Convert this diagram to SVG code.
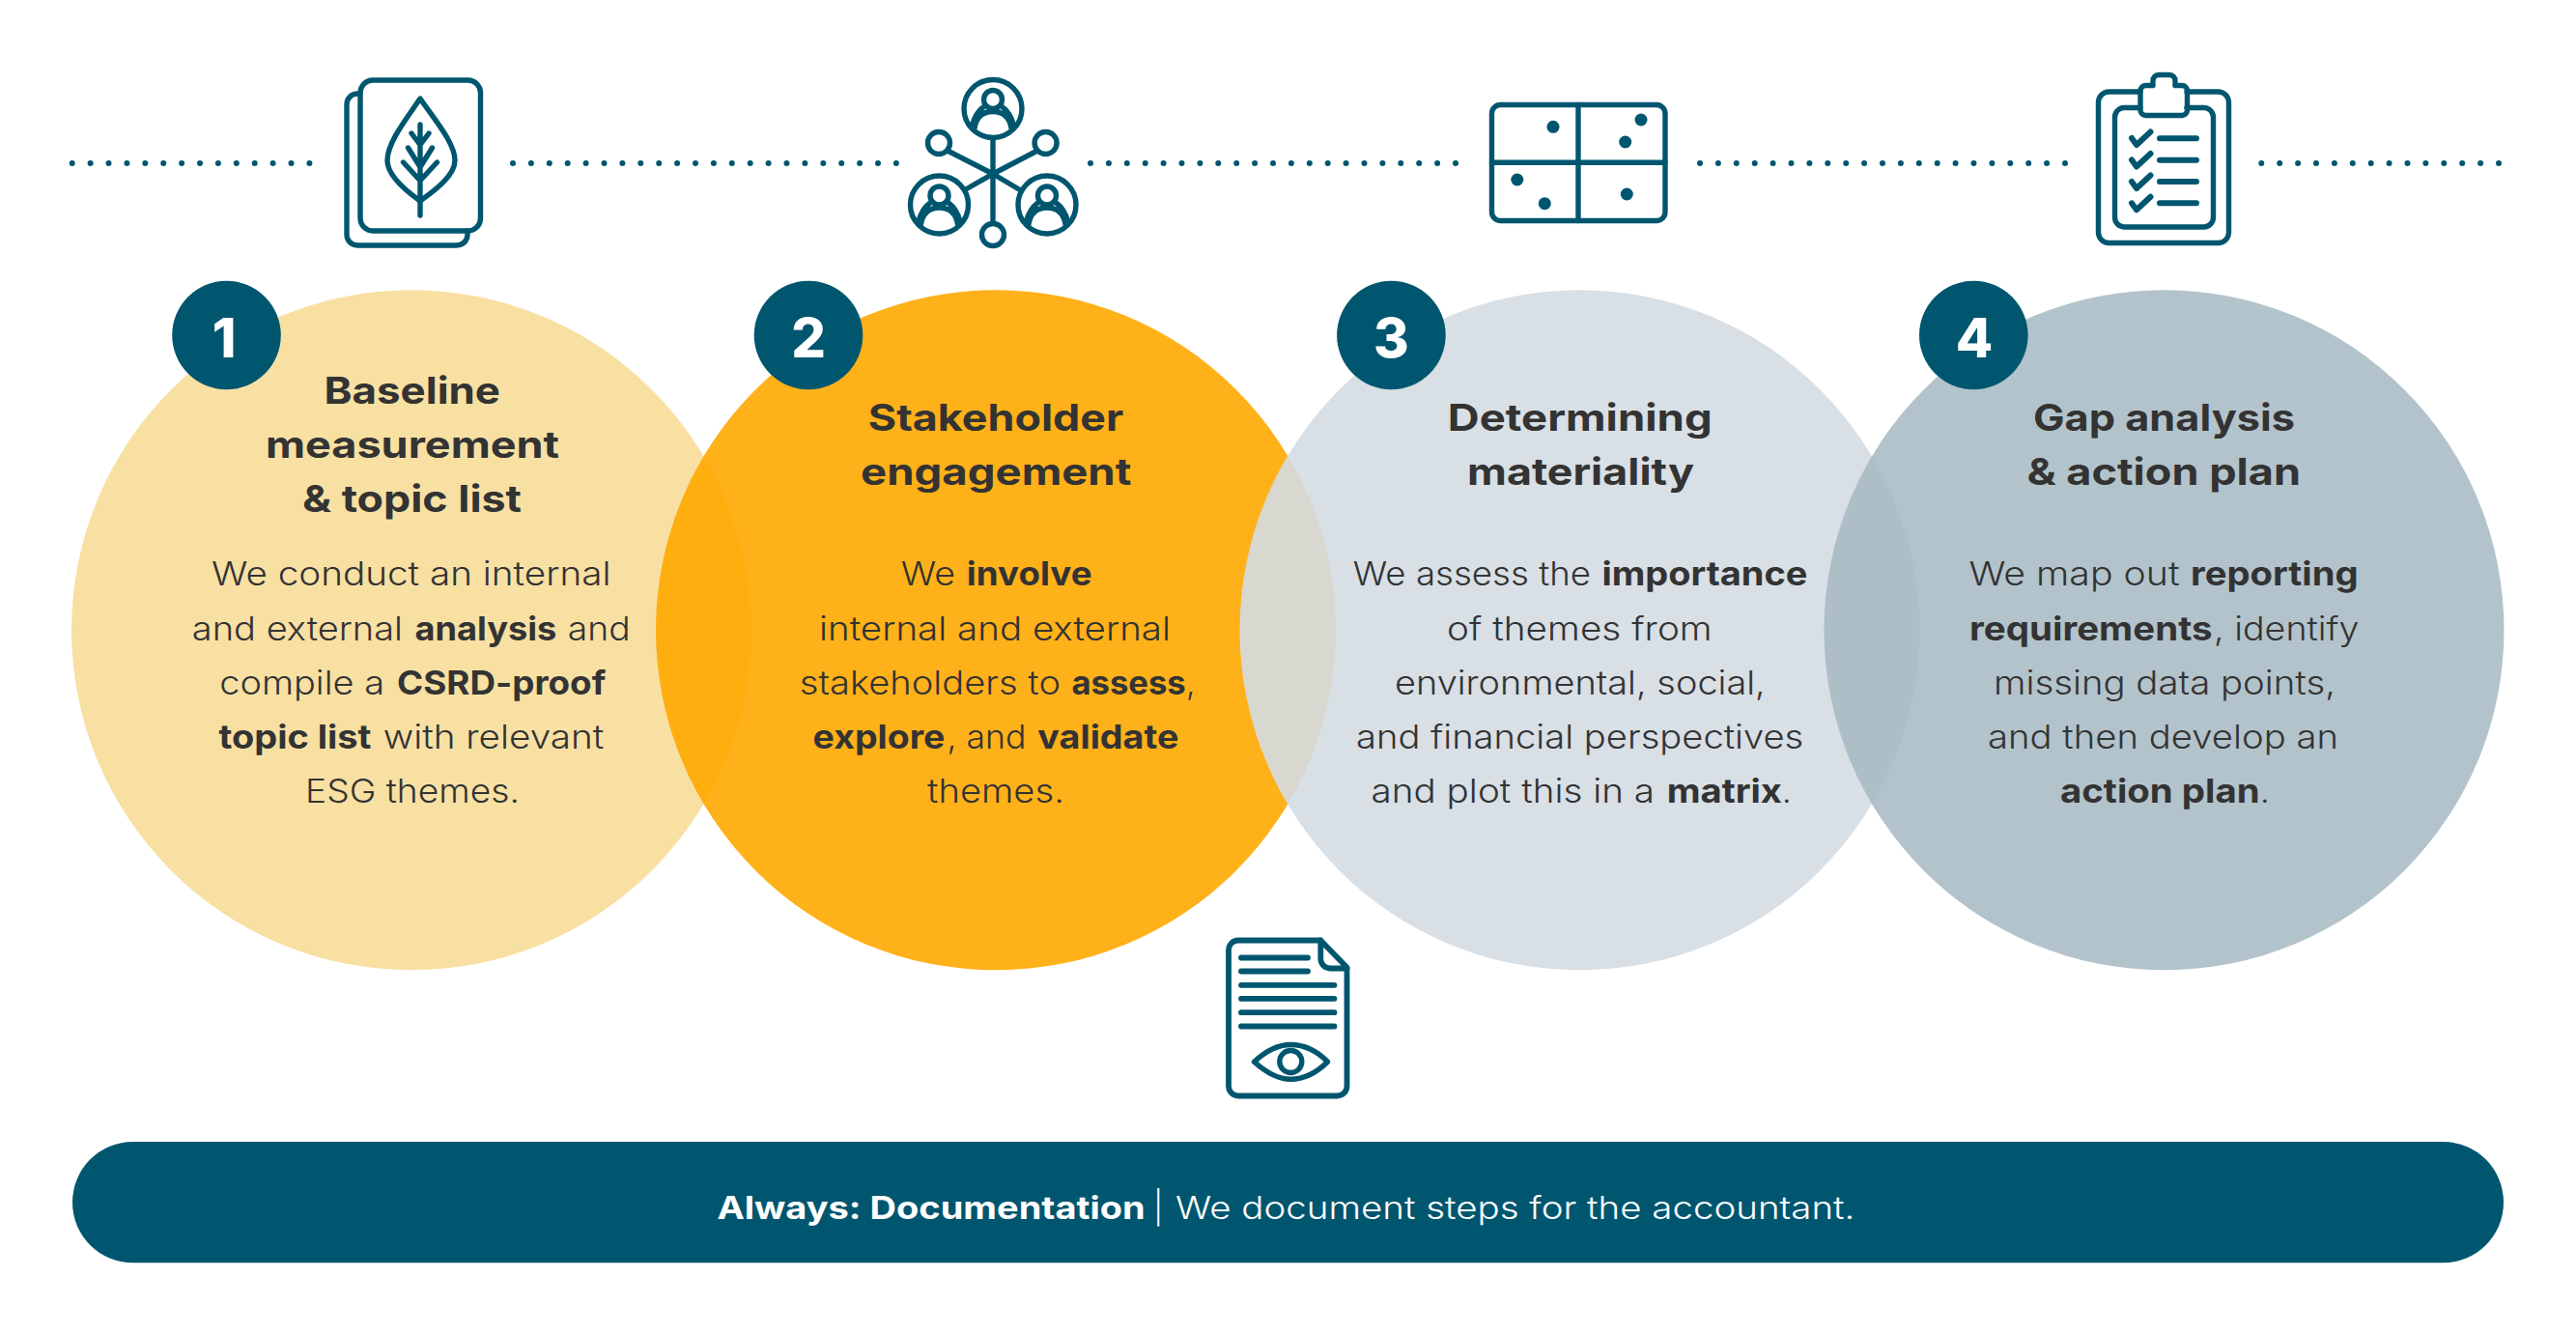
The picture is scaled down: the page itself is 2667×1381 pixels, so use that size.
<svg xmlns="http://www.w3.org/2000/svg" width="2667" height="1381" viewBox="0 0 2667 1381">
<style>
text{font-family:"Inter","Liberation Sans",sans-serif;fill:#333}
.t{font-size:38.5px;font-weight:700}
.b{font-size:34px;font-weight:300}
.s{font-weight:700}
.n{font-size:56px;font-weight:800;fill:#fff;text-anchor:middle}
.bar{font-size:33px;font-weight:300;fill:#fff}
.bar tspan{fill:#fff}
.i{fill:none;stroke:#00566f;stroke-width:5.4;stroke-linecap:round;stroke-linejoin:round}
.d{fill:#00566f}
.badge{fill:#00566f}
.dots{fill:none;stroke:#00566f;stroke-width:6;stroke-linecap:round;stroke-dasharray:0 18.9}
</style>
<defs>
<g id="person" class="i"><circle r="30"/><circle cy="-9.5" r="9.5"/><path d="M-19 20C-17 8-10 3 0 3S17 8 19 20M-9.500 -2C-15 2-19 8-21.500 17M9.500 -2C15 2 19 8 21.500 17"/></g>
</defs>
<rect width="2667" height="1381" fill="#fff"/>
<g id="connectors">
<path class="dots" d="M74.700 169H327"/>
<path class="dots" d="M531 169H928.500" />
<path class="dots" d="M1129 169H1508.500"/>
<path class="dots" d="M1760 169H2139"/>
<path class="dots" d="M2341.300 169H2588"/>
</g>
<g id="step1">
<circle cx="426" cy="652.300" r="352" fill="#f8e0a3"/>
</g>
<g id="step2">
<circle cx="1031" cy="652.300" r="352" fill="#ffa900" fill-opacity=".9"/>
</g>
<g id="step3">
<circle cx="1635.500" cy="652.300" r="352" fill="#d4dce2" fill-opacity=".91"/>
</g>
<g id="step4">
<circle cx="2240.500" cy="652.300" r="352" fill="#a6b8c2" fill-opacity=".85"/>
</g>
<g id="text1">
<circle class="badge" cx="234.500" cy="347" r="56.300"/><text class="n" x="232" y="369.500">1</text>
<text class="t" x="335.500" y="417.500" textLength="182.500" lengthAdjust="spacingAndGlyphs">Baseline</text>
<text class="t" x="275" y="474" textLength="304" lengthAdjust="spacingAndGlyphs">measurement</text>
<text class="t" x="313" y="530" textLength="227" lengthAdjust="spacingAndGlyphs">&amp; topic list</text>
<text class="b" x="219" y="606" textLength="413.500" lengthAdjust="spacingAndGlyphs">We conduct an internal</text>
<text class="b" y="662.600"><tspan x="198.800" textLength="218.200" lengthAdjust="spacingAndGlyphs">and external</tspan> <tspan class="s" x="429.400" textLength="146.900" lengthAdjust="spacingAndGlyphs">analysis</tspan> <tspan x="587.800" textLength="64.900" lengthAdjust="spacingAndGlyphs">and</tspan></text>
<text class="b" y="718.900"><tspan x="227.300" textLength="170.700" lengthAdjust="spacingAndGlyphs">compile a</tspan> <tspan class="s" x="411" textLength="216.300" lengthAdjust="spacingAndGlyphs">CSRD-proof</tspan></text>
<text class="b" y="775.100"><tspan class="s" x="226.500" textLength="158" lengthAdjust="spacingAndGlyphs">topic list</tspan> <tspan x="396.700" textLength="228.600" lengthAdjust="spacingAndGlyphs">with relevant</tspan></text>
<text class="b" x="316" y="831.300" textLength="222" lengthAdjust="spacingAndGlyphs">ESG themes.</text>
</g>
<g id="text2">
<circle class="badge" cx="837" cy="347" r="56.300"/><text class="n" x="837" y="369.500">2</text>
<text class="t" x="898.800" y="445.800" textLength="264.500" lengthAdjust="spacingAndGlyphs">Stakeholder</text>
<text class="t" x="891" y="501.700" textLength="280.400" lengthAdjust="spacingAndGlyphs">engagement</text>
<text class="b" y="606"><tspan x="932.700" textLength="56.300" lengthAdjust="spacingAndGlyphs">We</tspan> <tspan class="s" x="1000.800" textLength="129.800" lengthAdjust="spacingAndGlyphs">involve</tspan></text>
<text class="b" x="848" y="662.600" textLength="364" lengthAdjust="spacingAndGlyphs">internal and external</text>
<text class="b" y="718.900"><tspan x="827.800" textLength="270.200" lengthAdjust="spacingAndGlyphs">stakeholders to</tspan> <tspan class="s" x="1109.400" textLength="118.400" lengthAdjust="spacingAndGlyphs">assess</tspan><tspan x="1228">,</tspan></text>
<text class="b" y="775.100"><tspan class="s" x="841.600" textLength="136.800" lengthAdjust="spacingAndGlyphs">explore</tspan><tspan x="980.500" textLength="81.900" lengthAdjust="spacingAndGlyphs">, and</tspan> <tspan class="s" x="1074.300" textLength="146.100" lengthAdjust="spacingAndGlyphs">validate</tspan></text>
<text class="b" x="960" y="831.300" textLength="142" lengthAdjust="spacingAndGlyphs">themes.</text>
</g>
<g id="text3">
<circle class="badge" cx="1440.400" cy="347" r="56.300"/><text class="n" x="1440.400" y="369.500">3</text>
<text class="t" x="1498.800" y="445.800" textLength="273.900" lengthAdjust="spacingAndGlyphs">Determining</text>
<text class="t" x="1519" y="501.700" textLength="234.900" lengthAdjust="spacingAndGlyphs">materiality</text>
<text class="b" y="606"><tspan x="1400.800" textLength="246.200" lengthAdjust="spacingAndGlyphs">We assess the</tspan> <tspan class="s" x="1658.400" textLength="213" lengthAdjust="spacingAndGlyphs">importance</tspan></text>
<text class="b" x="1498" y="662.600" textLength="274.700" lengthAdjust="spacingAndGlyphs">of themes from</text>
<text class="b" x="1444" y="718.900" textLength="383.800" lengthAdjust="spacingAndGlyphs">environmental, social,</text>
<text class="b" x="1404" y="775.100" textLength="463.300" lengthAdjust="spacingAndGlyphs">and financial perspectives</text>
<text class="b" y="831.300"><tspan x="1419.600" textLength="293.400" lengthAdjust="spacingAndGlyphs">and plot this in a</tspan> <tspan class="s" x="1725.700" textLength="119.300" lengthAdjust="spacingAndGlyphs">matrix</tspan><tspan x="1845">.</tspan></text>
</g>
<g id="text4">
<circle class="badge" cx="2043.300" cy="347" r="56.300"/><text class="n" x="2044" y="369.500">4</text>
<text class="t" x="2105" y="445.800" textLength="271" lengthAdjust="spacingAndGlyphs">Gap analysis</text>
<text class="t" x="2098.400" y="501.700" textLength="283.600" lengthAdjust="spacingAndGlyphs">&amp; action plan</text>
<text class="b" y="606"><tspan x="2038.400" textLength="218.300" lengthAdjust="spacingAndGlyphs">We map out</tspan> <tspan class="s" x="2268" textLength="173.600" lengthAdjust="spacingAndGlyphs">reporting</tspan></text>
<text class="b" y="662.600"><tspan class="s" x="2039" textLength="251.600" lengthAdjust="spacingAndGlyphs">requirements</tspan><tspan x="2292" textLength="150.400" lengthAdjust="spacingAndGlyphs">, identify</tspan></text>
<text class="b" x="2064" y="718.900" textLength="354" lengthAdjust="spacingAndGlyphs">missing data points,</text>
<text class="b" x="2058" y="775.100" textLength="363" lengthAdjust="spacingAndGlyphs">and then develop an</text>
<text class="b" y="831.300"><tspan class="s" x="2133" textLength="206.600" lengthAdjust="spacingAndGlyphs">action plan</tspan><tspan x="2340">.</tspan></text>
</g>
<g id="icon-leaf" class="i">
<rect x="373" y="83" width="124.500" height="156" rx="13"/>
<path d="M373 97H370A11 11 0 0 0 359 108V243A11 11 0 0 0 370 254H473A11 11 0 0 0 484 243V239"/>
<path d="M435 102C420 124 401 148 401 166C401 181 418 196 435 208C452 196 471 181 471 166C471 148 450 124 435 102Z"/>
<path d="M435 129V223M426 138L435 150L444 138M422.500 153L435 173L447.500 153M417.500 168L435 187L452.500 168"/>
</g>
<g id="icon-stakeholders">
<use href="#person" x="1028" y="112.500"/>
<use href="#person" x="972.500" y="212"/>
<use href="#person" x="1084" y="212"/>
<g class="i">
<circle cx="972" cy="148" r="11.500"/><circle cx="1082.600" cy="148" r="11.500"/><circle cx="1028" cy="243" r="11.500"/>
<path d="M1028 143V231M981 156L1028 180L1074 156M1000 196L1028 180L1055 196"/>
</g>
</g>
<g id="icon-matrix">
<rect class="i" x="1544.500" y="108.500" width="179.500" height="120" rx="9"/>
<path class="i" d="M1544.500 168.300H1724M1634 108.500V228.500"/>
<circle class="d" cx="1608" cy="131.300" r="6.500"/><circle class="d" cx="1699" cy="124" r="6.500"/><circle class="d" cx="1682.700" cy="147" r="6.500"/><circle class="d" cx="1570.800" cy="186" r="6.500"/><circle class="d" cx="1599.300" cy="210.700" r="6.500"/><circle class="d" cx="1684.300" cy="201" r="6.500"/>
</g>
<g id="icon-checklist" class="i">
<path d="M2216 95H2184A11 11 0 0 0 2172.500 106V240A11 11 0 0 0 2184 251.500H2296A11 11 0 0 0 2307.500 240V106A11 11 0 0 0 2296 95H2264"/>
<path d="M2216 111.500H2199A10 10 0 0 0 2189.500 121V225A10 10 0 0 0 2199 235H2282A10 10 0 0 0 2291.500 225V121A10 10 0 0 0 2282 111.500H2264"/>
<path d="M2229 88.500V84A6 6 0 0 1 2235 77.500H2246A6 6 0 0 1 2252 84V88.500H2259A5.500 5.500 0 0 1 2264.500 94V114A5.500 5.500 0 0 1 2259 119.500H2222A5.500 5.500 0 0 1 2216 114V94A5.500 5.500 0 0 1 2222 88.500Z"/>
<path d="M2207 143L2212 150L2226.500 136.500M2207 165.500L2212 172.500L2226.500 159M2207 188L2212 195L2226.500 181.500M2207 210.300L2212 217.300L2226.500 203.800" stroke-width="6"/>
<path d="M2236 143.300H2274M2236 165.700H2274M2236 188H2274M2236 210.300H2274" stroke-width="6"/>
</g>
<g id="icon-document" class="i" transform="translate(0 1.5)">
<path d="M1367.300 972H1282A10 10 0 0 0 1272 982V1123A10 10 0 0 0 1282 1133H1384.500A10 10 0 0 0 1394.500 1123V1000Z" stroke-width="5.800"/>
<path d="M1367.300 972V991A10 10 0 0 0 1377 1001H1394.500" stroke-width="5.800"/>
<path d="M1285 990H1354M1285 1004H1354M1285 1018.300H1381.500M1285 1032.300H1381.500M1285 1046.700H1381.500M1285 1061H1381.500" stroke-width="5.800"/>
<path d="M1298.500 1097.700C1310 1087 1322 1080 1336.300 1080C1350 1080 1364 1087 1374.500 1097.700C1364 1108 1350 1115.700 1336.300 1115.700C1322 1115.700 1310 1108 1298.500 1097.700Z"/>
<circle cx="1336.300" cy="1097.500" r="11.500"/>
</g>
<g id="bar">
<rect x="75" y="1182" width="2517" height="125.300" rx="62.600" fill="#00566f"/>
<text class="bar" y="1262"><tspan class="s" x="742.400" textLength="443.300" lengthAdjust="spacingAndGlyphs">Always: Documentation</tspan> <tspan x="1194">|</tspan> <tspan x="1217" textLength="703.400" lengthAdjust="spacingAndGlyphs">We document steps for the accountant.</tspan></text>
</g>
</svg>
